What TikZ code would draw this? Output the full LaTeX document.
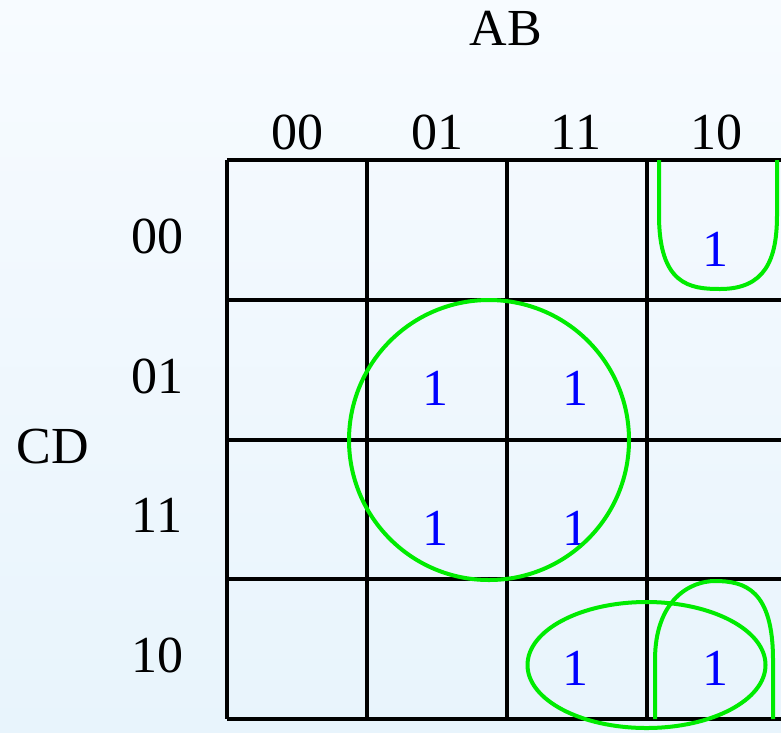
\documentclass[tikz,border=0pt]{standalone}
\usepackage{fontspec}
\setmainfont{Liberation Serif}
\begin{document}
\begin{tikzpicture}[x=1pt,y=-1pt,
  lbl/.style={font=\fontsize{52}{52}\selectfont, text=black, inner sep=0pt},
  one/.style={font=\fontsize{52}{52}\selectfont, text=blue, inner sep=0pt},
  gridline/.style={line width=4pt, black},
  grp/.style={line width=4pt, draw={rgb,255:red,0;green,235;blue,0}}]
\shade[top color={rgb,255:red,247;green,251;blue,255}, bottom color={rgb,255:red,232;green,244;blue,252}] (0,0) rectangle (781,732);
\useasboundingbox (0,0) rectangle (781,732);
% grid
\foreach \x in {227,367,507,647,787} \draw[gridline] (\x,160) -- (\x,719);
\foreach \y in {160,300,440,579,719} \draw[gridline] (227,\y) -- (787,\y);
% labels
\node[lbl] (AB) at (506,28) {AB};
\node[lbl] (CD) at (53,447) {CD};
\node[lbl] (c00) at (297,132) {00};
\node[lbl] (c01) at (437,132) {01};
\node[lbl] (c11) at (576,132) {11};
\node[lbl] (c10) at (716,132) {10};
\node[lbl] (r00) at (157,236) {00};
\node[lbl] (r01) at (157,376) {01};
\node[lbl] (r11) at (157,515) {11};
\node[lbl] (r10) at (157,655) {10};
% ones
\node[one] (m8) at (715,249) {1};
\node[one] (m5) at (435,388) {1};
\node[one] (m13) at (575,388) {1};
\node[one] (m7) at (435,528) {1};
\node[one] (m15) at (575,528) {1};
\node[one] (m14) at (575,668) {1};
\node[one] (m10) at (715,668) {1};
% groups
\draw[grp] (489,440) circle (140);
\draw[grp] (659,160) -- (659,215) .. controls (659,285) and (690,289) .. (720,289)
  .. controls (765,289) and (777,260) .. (777,215) -- (777,160);
\draw[grp] (655,719) -- (655,660) .. controls (655,600) and (690,581) .. (715,581)
  .. controls (745,581) and (773,590) .. (773,660) -- (773,719);
\draw[grp] (646.5,665) ellipse (119 and 63);
\end{tikzpicture}
\end{document}
